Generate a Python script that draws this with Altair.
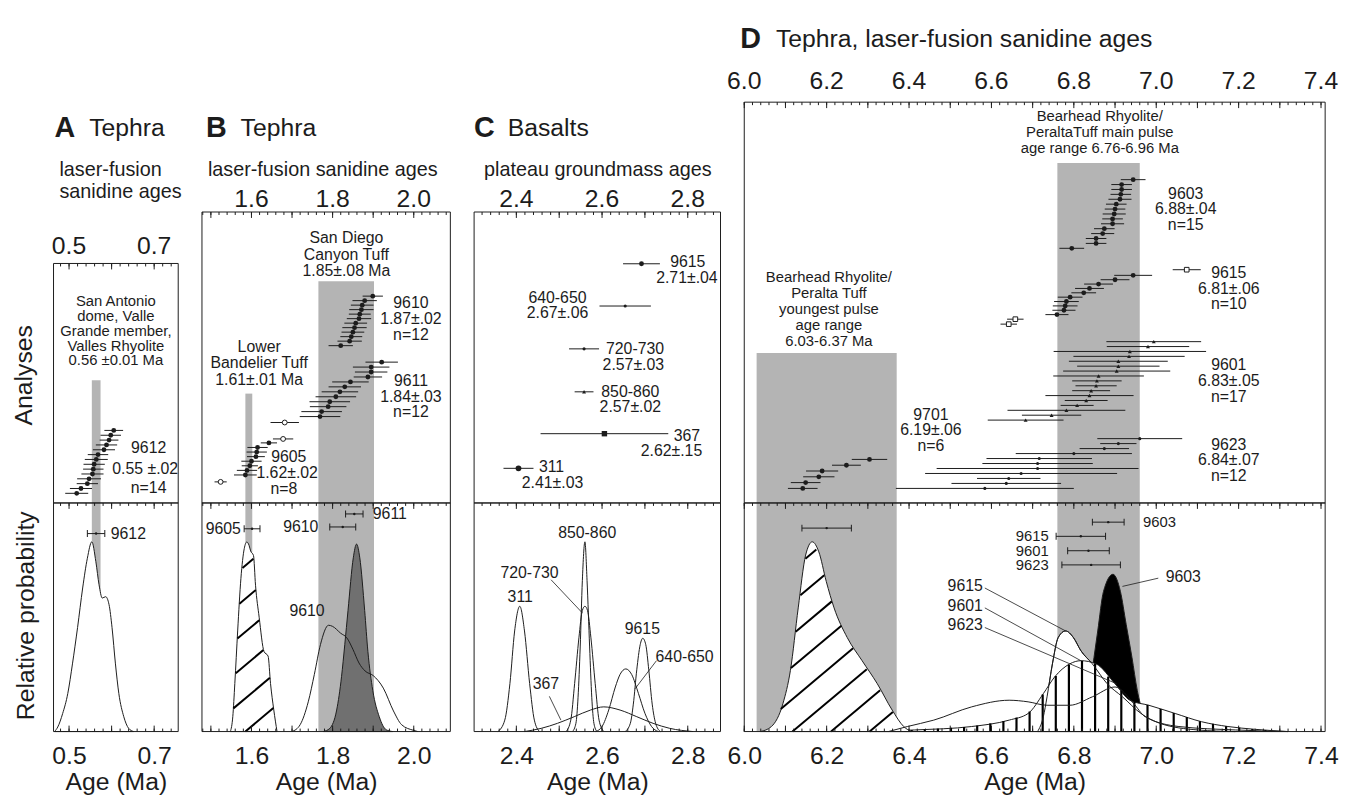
import altair as alt
import numpy as np
import pandas as pd

FONT = "Liberation Sans"
INK = "#1c1c1c"
BAND = "#b4b4b4"
DARK = "#707070"
ROW_PX = 5.0
BOT_H = 231
GAP = 24

# ======================= DATA =======================
# ---- Panel A: tephra 9612 ----
A_axis = [0.5, 0.7]
A_9612_age = [0.605, 0.598, 0.594, 0.588, 0.582, 0.568, 0.564, 0.559, 0.557, 0.555, 0.547, 0.543, 0.528, 0.518]
A_9612_err = [0.022, 0.024, 0.022, 0.025, 0.026, 0.024, 0.027, 0.025, 0.024, 0.026, 0.028, 0.025, 0.026, 0.027]
A_band = [0.5535, 0.574]
A_pdf_x = [0.466, 0.4735, 0.485, 0.497, 0.508, 0.520, 0.532, 0.543, 0.5535, 0.563, 0.5705, 0.578, 0.586, 0.594, 0.601, 0.609, 0.617, 0.6286, 0.640, 0.652]
A_pdf_p = [0.0, 0.02, 0.079, 0.166, 0.296, 0.455, 0.628, 0.758, 0.83, 0.743, 0.642, 0.584, 0.59, 0.555, 0.455, 0.296, 0.166, 0.065, 0.014, 0.0]
A_mean = [("9612", 0.5635, 0.543, 0.584)]

# ---- Panel B: tephra 9610, 9611, 9605 ----
B_axis = [1.6, 1.8, 2.0]
B_9610_age = [1.899, 1.879, 1.873, 1.871, 1.867, 1.865, 1.857, 1.854, 1.850, 1.846, 1.842, 1.820]
B_9610_err = [0.025, 0.03, 0.028, 0.03, 0.027, 0.03, 0.028, 0.03, 0.028, 0.027, 0.03, 0.03]
B_9611_age = [1.921, 1.895, 1.895, 1.887, 1.844, 1.830, 1.818, 1.808, 1.793, 1.789, 1.773, 1.769]
B_9611_err = [0.04, 0.045, 0.04, 0.035, 0.045, 0.04, 0.045, 0.05, 0.05, 0.045, 0.05, 0.05]
B_9605_age = [1.643, 1.615, 1.613, 1.611, 1.600, 1.596, 1.589, 1.585]
B_9605_err = [0.02, 0.025, 0.025, 0.022, 0.025, 0.02, 0.025, 0.028]
B_open_age = [1.682, 1.678, 1.524]
B_open_err = [0.035, 0.025, 0.015]
B_bands = [(1.585, 1.602), (1.765, 1.902)]
B_9605_pdf_x = [1.548, 1.554, 1.559, 1.566, 1.574, 1.5822, 1.5885, 1.594, 1.598, 1.605, 1.610, 1.619, 1.631, 1.641, 1.647, 1.655, 1.663]
B_9605_pdf_p = [0.0, 0.065, 0.21, 0.44, 0.67, 0.80, 0.829, 0.815, 0.79, 0.77, 0.64, 0.50, 0.35, 0.33, 0.21, 0.095, 0.0]
B_9610_pdf_x = [1.70, 1.72, 1.74, 1.755, 1.77, 1.79, 1.80, 1.82, 1.835, 1.85, 1.865, 1.88, 1.90, 1.925, 1.95, 1.97, 2.0, 2.01]
B_9610_pdf_p = [0.0, 0.03, 0.13, 0.25, 0.38, 0.465, 0.46, 0.43, 0.41, 0.36, 0.30, 0.265, 0.245, 0.19, 0.09, 0.03, 0.005, 0.0]
B_9611_pdf_x = [1.777, 1.793, 1.810, 1.822, 1.830, 1.838, 1.851, 1.859, 1.867, 1.879, 1.887, 1.899, 1.915, 1.932, 1.948]
B_9611_pdf_p = [0.0, 0.014, 0.094, 0.24, 0.38, 0.53, 0.76, 0.82, 0.76, 0.53, 0.35, 0.18, 0.065, 0.008, 0.0]
B_means = [("9605", 1.6015, 1.582, 1.621), ("9610", 1.825, 1.793, 1.857), ("9611", 1.8535, 1.832, 1.875)]

# ---- Panel C: basalts ----
C_axis = [2.4, 2.6, 2.8]
C_names = ["9615", "640-650", "720-730", "850-860", "367", "311"]
C_age = [2.692, 2.654, 2.558, 2.558, 2.6055, 2.405]
C_err = [0.043, 0.06, 0.035, 0.022, 0.149, 0.035]
C_marker = ["dot", "small", "small", "tri", "sq", "bigdot"]
C_pdf = {
    "311": ([2.357, 2.373, 2.385, 2.396, 2.408, 2.419, 2.431, 2.442, 2.454],
            [0.0, 0.05, 0.21, 0.44, 0.548, 0.44, 0.21, 0.05, 0.0]),
    "850-860": ([2.531, 2.539, 2.544, 2.549, 2.554, 2.560, 2.565, 2.571, 2.576, 2.581, 2.588],
                [0.0, 0.036, 0.15, 0.37, 0.66, 0.83, 0.66, 0.37, 0.15, 0.036, 0.0]),
    "720-730": ([2.516, 2.527, 2.536, 2.546, 2.554, 2.560, 2.566, 2.574, 2.584, 2.593, 2.604],
                [0.0, 0.05, 0.21, 0.41, 0.53, 0.548, 0.53, 0.41, 0.21, 0.05, 0.0]),
    "9615": ([2.654, 2.666, 2.673, 2.681, 2.689, 2.695, 2.702, 2.709, 2.717, 2.725, 2.736],
             [0.0, 0.036, 0.12, 0.27, 0.38, 0.408, 0.38, 0.27, 0.12, 0.036, 0.0]),
    "640-650": ([2.585, 2.600, 2.6155, 2.631, 2.642, 2.6555, 2.669, 2.685, 2.700, 2.7155, 2.731],
                [0.0, 0.022, 0.094, 0.195, 0.25, 0.274, 0.25, 0.166, 0.08, 0.022, 0.0]),
    "367": ([2.419, 2.458, 2.496, 2.535, 2.573, 2.604, 2.642, 2.681, 2.719, 2.758, 2.812],
            [0.0, 0.014, 0.036, 0.065, 0.094, 0.108, 0.094, 0.065, 0.036, 0.014, 0.0]),
}

# ---- Panel D: tephra ----
D_axis = [6.0, 6.2, 6.4, 6.6, 6.8, 7.0, 7.2, 7.4]
D_bands = [(6.03, 6.37), (6.76, 6.96)]
D_9603_age = [6.944, 6.916, 6.916, 6.914, 6.912, 6.903, 6.900, 6.898, 6.894, 6.894, 6.874, 6.870, 6.854, 6.854, 6.795]
D_9603_err = [0.03, 0.025, 0.025, 0.025, 0.028, 0.025, 0.025, 0.028, 0.025, 0.028, 0.025, 0.028, 0.025, 0.025, 0.03]
D_9615_age = [6.944, 6.900, 6.860, 6.838, 6.824, 6.791, 6.782, 6.779, 6.776, 6.759]
D_9615_err = [0.046, 0.035, 0.035, 0.035, 0.03, 0.03, 0.03, 0.03, 0.028, 0.028]
D_9615_open_age = [7.074, 6.658, 6.642]
D_9615_open_err = [0.034, 0.02, 0.02]
D_9601_age = [6.994, 6.980, 6.936, 6.934, 6.908, 6.908, 6.904, 6.860, 6.856, 6.854, 6.842, 6.838, 6.830, 6.808, 6.782, 6.746, 6.683]
D_9601_err = [0.115, 0.10, 0.185, 0.135, 0.12, 0.10, 0.13, 0.11, 0.06, 0.05, 0.046, 0.107, 0.052, 0.04, 0.143, 0.072, 0.092]
D_9623_age = [6.960, 6.908, 6.874, 6.800, 6.716, 6.712, 6.712, 6.672, 6.642, 6.636, 6.584]
D_9623_err = [0.103, 0.044, 0.06, 0.141, 0.128, 0.134, 0.245, 0.233, 0.077, 0.133, 0.216]
D_9701_age = [6.304, 6.248, 6.189, 6.181, 6.149, 6.142]
D_9701_err = [0.043, 0.035, 0.039, 0.038, 0.036, 0.036]

D_9701_pdf_x = [6.039, 6.066, 6.094, 6.112, 6.131, 6.149, 6.165, 6.181, 6.199, 6.218, 6.25, 6.286, 6.323, 6.359, 6.387, 6.405]
D_9701_pdf_p = [0.0, 0.022, 0.123, 0.267, 0.541, 0.772, 0.83, 0.786, 0.657, 0.541, 0.411, 0.31, 0.209, 0.094, 0.022, 0.0]
D_9603_pdf_x = [6.817, 6.826, 6.84, 6.849, 6.858, 6.872, 6.895, 6.913, 6.927, 6.941, 6.954, 6.968, 6.986, 7.0]
D_9603_pdf_p = [0.0, 0.079, 0.209, 0.325, 0.44, 0.613, 0.688, 0.613, 0.469, 0.325, 0.18, 0.079, 0.007, 0.0]
D_9615_pdf_x = [6.712, 6.726, 6.735, 6.748, 6.762, 6.78, 6.799, 6.817, 6.845, 6.881, 6.918, 6.963, 7.009, 7.101, 7.192]
D_9615_pdf_p = [0.0, 0.065, 0.152, 0.296, 0.411, 0.44, 0.411, 0.354, 0.296, 0.209, 0.152, 0.079, 0.036, 0.007, 0.0]
D_9601_pdf_x = [6.304, 6.414, 6.552, 6.643, 6.689, 6.726, 6.753, 6.79, 6.817, 6.854, 6.9, 6.936, 6.982, 7.046, 7.11, 7.174, 7.238, 7.32]
D_9601_pdf_p = [0.0, 0.007, 0.022, 0.05, 0.079, 0.166, 0.238, 0.296, 0.31, 0.296, 0.209, 0.137, 0.115, 0.079, 0.043, 0.022, 0.01, 0.0]
D_9623_pdf_x = [6.35, 6.396, 6.46, 6.552, 6.643, 6.689, 6.735, 6.79, 6.845, 6.9, 6.945, 6.973, 7.055, 7.192, 7.32]
D_9623_pdf_p = [0.0, 0.022, 0.05, 0.108, 0.137, 0.13, 0.115, 0.115, 0.152, 0.195, 0.123, 0.065, 0.022, 0.007, 0.0]
D_means = [("9701", 6.20, 6.14, 6.26), ("9603", 6.8835, 6.845, 6.922), ("9615", 6.817, 6.757, 6.877),
           ("9601", 6.8355, 6.785, 6.886), ("9623", 6.842, 6.771, 6.913)]

# ======================= LAYOUT =======================
# head = pixels above the plot box, top = analyses box height, BOT_H = probability box height
PANEL = {
    "A": dict(dom=[0.4635, 0.7565], w=126, head=254, top=242, lab_gap=10),
    "B": dict(dom=[1.478, 2.0902], w=251, head=202, top=294, lab_gap=5),
    "C": dict(dom=[2.3014, 2.8764], w=249, head=202, top=294, lab_gap=5),
    "D": dict(dom=[6.0, 7.41], w=587, head=91, top=405, lab_gap=13),
}


def bot_axis(vals):
    return alt.Axis(orient="bottom", values=vals, format=".1f", labelFontSize=25, labelPadding=12,
                    ticks=False, domain=False, grid=False, title="Age (Ma)", titleFontSize=25,
                    titleFontWeight="normal", titlePadding=2, labelFlush=False, labelOverlap=False,
                    labelFont=FONT, labelColor=INK, titleFont=FONT, titleColor=INK)


def xenc(dom, axis):
    sc = alt.Scale(domain=dom, nice=False, zero=False)
    return lambda f: alt.X(f"{f}:Q", scale=sc, axis=axis)


def yenc(dom, rng):
    sc = alt.Scale(domain=dom, range=rng, nice=False, zero=False)
    return lambda f: alt.Y(f"{f}:Q", scale=sc, axis=None)


def tick_vals(dom, step):
    k0 = int(np.ceil(dom[0] / step - 1e-6))
    k1 = int(np.floor(dom[1] / step + 1e-6))
    return [round(k * step, 3) for k in range(k0, k1 + 1)]


def tick_layers(X, dom, minor_pairs, major_pairs):
    out = []
    mn = pd.DataFrame({"v": tick_vals(dom, 0.02)})
    mj = pd.DataFrame({"v": tick_vals(dom, 0.1)})
    for a, b in minor_pairs:
        out.append(alt.Chart(mn).mark_rule(color=INK, strokeWidth=1).encode(x=X("v"), y=alt.value(a), y2=alt.value(b)))
    for a, b in major_pairs:
        out.append(alt.Chart(mj).mark_rule(color=INK, strokeWidth=1).encode(x=X("v"), y=alt.value(a), y2=alt.value(b)))
    return out


def text_layers(items, X, Y):
    df = pd.DataFrame(items, columns=["t", "x", "y", "size", "align"])
    out = []
    for (s, a), g in df.groupby(["size", "align"]):
        out.append(alt.Chart(g).mark_text(font=FONT, fontSize=float(s), align=str(a), baseline="middle",
                                          color=INK).encode(x=X("x"), y=Y("y"), text="t:N"))
    return out


def group_df(ages, errs, top, step, marker):
    ages = np.asarray(ages, float)
    errs = np.asarray(errs, float)
    return pd.DataFrame({"age": ages, "lo": ages - errs, "hi": ages + errs,
                         "row": [top - i * step for i in range(len(ages))], "m": marker})


MARK = {
    "dot": dict(shape="circle", size=24, open=False),
    "bigdot": dict(shape="circle", size=34, open=False),
    "small": dict(shape="circle", size=10, open=False),
    "tri": dict(shape="triangle-up", size=16, open=False),
    "sq": dict(shape="square", size=30, open=False),
    "open": dict(shape="circle", size=24, open=True),
    "osq": dict(shape="square", size=22, open=True),
}


def analyses_layers(df, X, Y):
    out = [alt.Chart(df).mark_rule(color=INK, strokeWidth=1).encode(x=X("lo"), x2="hi", y=Y("row"))]
    for m, g in df.groupby("m"):
        st = MARK[m]
        if st["open"]:
            mk = alt.Chart(g).mark_point(shape=st["shape"], size=st["size"], filled=True, fill="white",
                                         stroke=INK, strokeWidth=1, opacity=1)
        else:
            mk = alt.Chart(g).mark_point(shape=st["shape"], size=st["size"], filled=True, color=INK, opacity=1)
        out.append(mk.encode(x=X("age"), y=Y("row")))
    return out


def band_layer(bands, X, Y):
    df = pd.DataFrame(bands, columns=["lo", "hi", "top"])
    df["base"] = 0.0
    return alt.Chart(df).mark_rect(color=BAND).encode(x=X("lo"), x2="hi", y=Y("top"), y2="base")


def box_layer(dom, top, X, Y):
    df = pd.DataFrame({"lo": [dom[0]], "hi": [dom[1]], "top": [top], "base": [0.0]})
    return alt.Chart(df).mark_rect(fillOpacity=0, stroke=INK, strokeWidth=1).encode(
        x=X("lo"), x2="hi", y=Y("top"), y2="base")


def curve_df(xs, ps):
    return pd.DataFrame({"x": xs, "p": ps})


def area(xs, ps, X, Y, fill):
    return alt.Chart(curve_df(xs, ps)).mark_area(interpolate="monotone", fill=fill, stroke=INK,
                                                 strokeWidth=1, opacity=1).encode(x=X("x"), y=Y("p"))


def line(xs, ps, X, Y):
    return alt.Chart(curve_df(xs, ps)).mark_line(interpolate="monotone", color=INK,
                                                 strokeWidth=1).encode(x=X("x"), y=Y("p"))


def means_layers(means, pvals, X, Y):
    df = pd.DataFrame(means, columns=["s", "m", "lo", "hi"])
    df["p"] = pvals
    caps = pd.concat([df[["lo", "p"]].rename(columns={"lo": "c"}), df[["hi", "p"]].rename(columns={"hi": "c"})])
    return [
        alt.Chart(df).mark_rule(color=INK, strokeWidth=1).encode(x=X("lo"), x2="hi", y=Y("p")),
        alt.Chart(caps).mark_tick(orient="vertical", size=7, thickness=1, color=INK, opacity=1).encode(x=X("c"), y=Y("p")),
        alt.Chart(df).mark_point(shape="circle", size=6, filled=True, color=INK, opacity=1).encode(x=X("m"), y=Y("p")),
    ]


def leaders(rows, X, Y):
    df = pd.DataFrame(rows, columns=["x", "y", "x2", "y2"])
    return alt.Chart(df).mark_rule(color=INK, strokeWidth=0.8).encode(x=X("x"), y=Y("y"), x2="x2", y2="y2")


def hatch_segments(xs, ps, dom, W, H, angle_deg, spacing_px, anchor_x):
    xs = np.asarray(xs, float)
    ps = np.asarray(ps, float)
    kx = W / (dom[1] - dom[0])
    px = (xs - dom[0]) * kx
    py = ps * H
    t = np.tan(np.radians(angle_deg))
    anchor = (anchor_x - dom[0]) * kx
    c_min = px.min() - H / t
    c_max = px.max()
    k0 = int(np.floor((c_min - anchor) / spacing_px))
    k1 = int(np.ceil((c_max - anchor) / spacing_px))
    rows = []
    for k in range(k0, k1 + 1):
        c = anchor + k * spacing_px
        s = np.linspace(c, c + H / t, 800)
        ly = t * (s - c)
        f = np.interp(s, px, py, left=0.0, right=0.0)
        inside = ly < f - 1.0
        idx = np.flatnonzero(inside)
        if idx.size == 0:
            continue
        splits = np.flatnonzero(np.diff(idx) > 1)
        starts = np.r_[idx[0], idx[splits + 1]]
        ends = np.r_[idx[splits], idx[-1]]
        for a, b in zip(starts, ends):
            if s[b] - s[a] < 2:
                continue
            rows.append(dict(x=s[a] / kx + dom[0], x2=s[b] / kx + dom[0], y=ly[a] / H, y2=ly[b] / H))
    return pd.DataFrame(rows)


def hatch_layer(df, X, Y):
    return alt.Chart(df).mark_rule(color="black", strokeWidth=2).encode(x=X("x"), x2="x2", y=Y("y"), y2="y2")


def header_layers(items):
    layers = []
    for (t, x, y, size, weight) in items:
        layers.append(alt.Chart(pd.DataFrame({"t": [t]})).mark_text(
            font=FONT, fontSize=size, fontWeight=weight, align="left", baseline="middle", color=INK
        ).encode(x=alt.value(x), y=alt.value(y), text="t:N"))
    return layers


def make_panel(key, axis_vals, top_fn, bot_fn, head_items):
    P = PANEL[key]
    dom, W, TH, HH = P["dom"], P["w"], P["top"], P["head"]
    DIV = HH + TH
    TOT = DIV + BOT_H
    X = xenc(dom, bot_axis(axis_vals))
    Yt = yenc([0, TH / ROW_PX], [DIV, HH])
    Yb = yenc([0, 1], [TOT, DIV])
    L = top_fn(X, Yt) + bot_fn(X, Yb)
    L += tick_layers(X, dom,
                     [(HH, HH + 3), (DIV, DIV + 3), (TOT - 3, TOT)],
                     [(HH, HH + 6), (DIV, DIV + 6), (TOT - 6, TOT)])
    L.append(box_layer(dom, TH / ROW_PX, X, Yt))
    L.append(box_layer(dom, 1.0, X, Yb))
    lab = pd.DataFrame({"v": axis_vals, "t": [f"{v:.1f}" for v in axis_vals]})
    L.append(alt.Chart(lab).mark_text(font=FONT, fontSize=25, align="center", baseline="alphabetic",
                                      color=INK).encode(x=X("v"), y=alt.value(HH - P["lab_gap"]), text="t:N"))
    L += header_layers(head_items)
    return alt.layer(*L).resolve_scale(y="independent").properties(width=W, height=TOT)


# ---------------- Panel A ----------------
def A_top(X, Y):
    L = [band_layer([(A_band[0], A_band[1], 24.8)], X, Y)]
    L += analyses_layers(group_df(A_9612_age, A_9612_err, 14.66, 0.978, "dot"), X, Y)
    L += text_layers([
        ("San Antonio", 0.610, 40.8, 15, "center"), ("dome, Valle", 0.610, 37.8, 15, "center"),
        ("Grande member,", 0.610, 34.8, 15, "center"), ("Valles Rhyolite", 0.610, 31.8, 15, "center"),
        ("0.56 ±0.01 Ma", 0.610, 28.8, 15, "center"),
        ("9612", 0.687, 11.0, 16, "center"), ("0.55 ±.02", 0.679, 6.9, 16, "center"), ("n=14", 0.687, 3.0, 16, "center"),
    ], X, Y)
    return L


def A_bot(X, Y):
    L = [band_layer([(A_band[0], A_band[1], 1.0)], X, Y)]
    L.append(area(A_pdf_x, A_pdf_p, X, Y, "white"))
    L += means_layers(A_mean, [0.866], X, Y)
    L += text_layers([("9612", 0.598, 0.866, 16, "left")], X, Y)
    return L


# ---------------- Panel B ----------------
def B_top(X, Y):
    L = [band_layer([(B_bands[0][0], B_bands[0][1], 22.1), (B_bands[1][0], B_bands[1][1], 44.8)], X, Y)]
    df = pd.concat([
        group_df(B_9610_age, B_9610_err, 41.8, 0.91, "dot"),
        group_df(B_9611_age, B_9611_err, 28.46, 1.0, "dot"),
        group_df(B_9605_age, B_9605_err, 12.14, 0.926, "dot"),
        pd.DataFrame({"age": B_open_age, "lo": np.subtract(B_open_age, B_open_err),
                      "hi": np.add(B_open_age, B_open_err), "row": [16.26, 12.94, 4.26], "m": "open"}),
    ])
    L += analyses_layers(df, X, Y)
    L += text_layers([
        ("San Diego", 1.834, 53.5, 16, "center"), ("Canyon Tuff", 1.834, 50.2, 16, "center"),
        ("1.85±.08 Ma", 1.834, 46.9, 16, "center"),
        ("Lower", 1.619, 31.5, 16, "center"), ("Bandelier Tuff", 1.619, 28.2, 16, "center"),
        ("1.61±.01 Ma", 1.619, 24.9, 16, "center"),
        ("9610", 1.993, 40.4, 16, "center"), ("1.87±.02", 1.993, 37.2, 16, "center"), ("n=12", 1.993, 34.0, 16, "center"),
        ("9611", 1.993, 24.7, 16, "center"), ("1.84±.03", 1.993, 21.5, 16, "center"), ("n=12", 1.993, 18.3, 16, "center"),
        ("9605", 1.692, 9.3, 16, "center"), ("1.62±.02", 1.688, 6.0, 16, "center"), ("n=8", 1.680, 2.9, 16, "center"),
    ], X, Y)
    return L


def B_bot(X, Y):
    dom, W = PANEL["B"]["dom"], PANEL["B"]["w"]
    L = [band_layer([(b[0], b[1], 1.0) for b in B_bands], X, Y)]
    L.append(area(B_9611_pdf_x, B_9611_pdf_p, X, Y, DARK))
    L.append(line(B_9610_pdf_x, B_9610_pdf_p, X, Y))
    L.append(area(B_9605_pdf_x, B_9605_pdf_p, X, Y, "white"))
    L.append(hatch_layer(hatch_segments(B_9605_pdf_x, B_9605_pdf_p, dom, W, BOT_H, 40, 40, 1.585), X, Y))
    L += means_layers(B_means, [0.887, 0.895, 0.952], X, Y)
    L += text_layers([
        ("9605", 1.574, 0.887, 16, "right"), ("9610", 1.765, 0.895, 16, "right"),
        ("9611", 1.899, 0.952, 16, "left"), ("9610", 1.737, 0.527, 16, "center"),
    ], X, Y)
    return L


# ---------------- Panel C ----------------
def C_top(X, Y):
    rows = [48.34, 39.8, 31.14, 22.46, 14.0, 7.0]
    df = pd.DataFrame({"age": C_age, "lo": np.subtract(C_age, C_err), "hi": np.add(C_age, C_err),
                       "row": rows, "m": C_marker})
    L = analyses_layers(df, X, Y)
    L += text_layers([
        ("9615", 2.800, 48.6, 16, "center"), ("2.71±.04", 2.798, 45.5, 16, "center"),
        ("640-650", 2.496, 41.5, 16, "center"), ("2.67±.06", 2.496, 38.4, 16, "center"),
        ("720-730", 2.677, 31.1, 16, "center"), ("2.57±.03", 2.673, 27.9, 16, "center"),
        ("850-860", 2.666, 22.5, 16, "center"), ("2.57±.02", 2.666, 19.3, 16, "center"),
        ("367", 2.798, 13.6, 16, "center"), ("2.62±.15", 2.762, 10.5, 16, "center"),
        ("311", 2.482, 7.3, 16, "center"), ("2.41±.03", 2.4845, 4.1, 16, "center"),
    ], X, Y)
    return L


def C_bot(X, Y):
    L = [line(C_pdf[k][0], C_pdf[k][1], X, Y) for k in ["367", "640-650", "9615", "720-730", "850-860", "311"]]
    L.append(leaders([(2.481, 0.664, 2.554, 0.519), (2.477, 0.154, 2.504, 0.05), (2.727, 0.31, 2.677, 0.187)], X, Y))
    L += text_layers([
        ("850-860", 2.5654, 0.869, 16, "center"), ("720-730", 2.4307, 0.693, 16, "center"),
        ("311", 2.409, 0.589, 16, "center"), ("367", 2.469, 0.209, 16, "center"),
        ("9615", 2.694, 0.45, 16, "center"), ("640-650", 2.7926, 0.325, 16, "center"),
    ], X, Y)
    return L


# ---------------- Panel D ----------------
def D_top(X, Y):
    L = [band_layer([(D_bands[0][0], D_bands[0][1], 30.3), (D_bands[1][0], D_bands[1][1], 68.7)], X, Y)]
    df = pd.concat([
        group_df(D_9603_age, D_9603_err, 65.34, 0.991, "dot"),
        group_df(D_9615_age, D_9615_err, 46.0, 0.882, "dot"),
        pd.DataFrame({"age": D_9615_open_age, "lo": np.subtract(D_9615_open_age, D_9615_open_err),
                      "hi": np.add(D_9615_open_age, D_9615_open_err), "row": [47.14, 37.14, 36.14], "m": "osq"}),
        group_df(D_9601_age, D_9601_err, 32.6, 0.991, "tri"),
        group_df(D_9623_age, D_9623_err, 13.0, 1.006, "small"),
        group_df(D_9701_age, D_9701_err, 8.8, 1.172, "dot"),
    ])
    L += analyses_layers(df, X, Y)
    L += text_layers([
        ("Bearhead Rhyolite/", 6.863, 78.2, 15, "center"), ("PeraltaTuff main pulse", 6.863, 75.0, 15, "center"),
        ("age range 6.76-6.96 Ma", 6.863, 71.8, 15, "center"),
        ("Bearhead Rhyolite/", 6.2055, 45.6, 15, "center"), ("Peralta Tuff", 6.2055, 42.4, 15, "center"),
        ("youngest pulse", 6.2055, 39.2, 15, "center"), ("age range", 6.2055, 36.0, 15, "center"),
        ("6.03-6.37 Ma", 6.2055, 32.8, 15, "center"),
        ("9701", 6.453, 17.8, 16, "center"), ("6.19±.06", 6.453, 14.7, 16, "center"), ("n=6", 6.453, 11.6, 16, "center"),
        ("9603", 7.0715, 62.5, 16, "center"), ("6.88±.04", 7.0715, 59.3, 16, "center"), ("n=15", 7.0715, 56.1, 16, "center"),
        ("9615", 7.176, 46.5, 16, "center"), ("6.81±.06", 7.176, 43.3, 16, "center"), ("n=10", 7.176, 40.1, 16, "center"),
        ("9601", 7.176, 27.8, 16, "center"), ("6.83±.05", 7.176, 24.6, 16, "center"), ("n=17", 7.176, 21.4, 16, "center"),
        ("9623", 7.176, 11.8, 16, "center"), ("6.84±.07", 7.176, 8.6, 16, "center"), ("n=12", 7.176, 5.4, 16, "center"),
    ], X, Y)
    return L


def D_bot(X, Y):
    dom, W = PANEL["D"]["dom"], PANEL["D"]["w"]
    L = [band_layer([(b[0], b[1], 1.0) for b in D_bands], X, Y)]
    L.append(area(D_9615_pdf_x, D_9615_pdf_p, X, Y, "white"))
    L.append(area(D_9603_pdf_x, D_9603_pdf_p, X, Y, "black"))
    L.append(area(D_9601_pdf_x, D_9601_pdf_p, X, Y, "white"))
    sx = np.arange(6.311, 7.33, 0.0318)
    sp = np.interp(sx, D_9601_pdf_x, D_9601_pdf_p)
    stripes = pd.DataFrame({"x": sx, "p": sp, "b": 0.0})
    stripes = stripes[stripes["p"] > 0.004]
    L.append(alt.Chart(stripes).mark_rule(color="black", strokeWidth=2.2).encode(x=X("x"), y=Y("p"), y2="b"))
    L.append(area(D_9701_pdf_x, D_9701_pdf_p, X, Y, "white"))
    L.append(hatch_layer(hatch_segments(D_9701_pdf_x, D_9701_pdf_p, dom, W, BOT_H, 40, 39, 6.117), X, Y))
    L.append(line(D_9623_pdf_x, D_9623_pdf_p, X, Y))
    L.append(line(D_9615_pdf_x, D_9615_pdf_p, X, Y))
    L.append(leaders([(6.584, 0.628, 6.78, 0.44), (6.584, 0.541, 6.817, 0.31), (6.584, 0.455, 6.904, 0.209),
                      (7.005, 0.671, 6.918, 0.635)], X, Y))
    L += means_layers(D_means, [0.89, 0.916, 0.854, 0.791, 0.729], X, Y)
    L += text_layers([
        ("9603", 6.968, 0.916, 15, "left"), ("9615", 6.739, 0.854, 15, "right"),
        ("9601", 6.739, 0.791, 15, "right"), ("9623", 6.739, 0.729, 15, "right"),
        ("9615", 6.579, 0.635, 16, "right"), ("9601", 6.579, 0.548, 16, "right"),
        ("9623", 6.579, 0.465, 16, "right"), ("9603", 7.023, 0.678, 16, "left"),
    ], X, Y)
    return L


pA = make_panel("A", A_axis, A_top, A_bot, [
    ("A", 1, 117, 29, "bold"), ("Tephra", 36, 117, 25, "normal"),
    ("laser-fusion", 6, 160, 20, "normal"), ("sanidine ages", 6, 182, 20, "normal")])
pB = make_panel("B", B_axis, B_top, B_bot, [
    ("B", 4, 117, 29, "bold"), ("Tephra", 39, 117, 25, "normal"),
    ("laser-fusion sanidine ages", 6, 160, 20, "normal")])
pC = make_panel("C", C_axis, C_top, C_bot, [
    ("C", 0, 117, 29, "bold"), ("Basalts", 34, 117, 25, "normal"),
    ("plateau groundmass ages", 10, 160, 20, "normal")])
pD = make_panel("D", D_axis, D_top, D_bot, [
    ("D", -4, 27, 29, "bold"), ("Tephra,  laser-fusion sanidine ages", 32, 27, 25, "normal")])

side = alt.layer(
    alt.Chart(pd.DataFrame({"t": ["Analyses"]})).mark_text(font=FONT, fontSize=25, angle=270, align="center",
                                                             baseline="middle", color=INK).encode(
        x=alt.value(16), y=alt.value(367), text="t:N"),
    alt.Chart(pd.DataFrame({"t": ["Relative probability"]})).mark_text(font=FONT, fontSize=25, angle=270,
                                                                         align="center", baseline="middle",
                                                                         color=INK).encode(
        x=alt.value(18), y=alt.value(610), text="t:N"),
).properties(width=22, height=727)

chart = alt.hconcat(side, pA, pB, pC, pD, spacing=GAP, bounds="flush").properties(
    padding=0
).configure_view(stroke=None).configure_axis(labelFont=FONT, titleFont=FONT)

chart.save("out.html", embed_options={"renderer": "svg", "actions": False})
